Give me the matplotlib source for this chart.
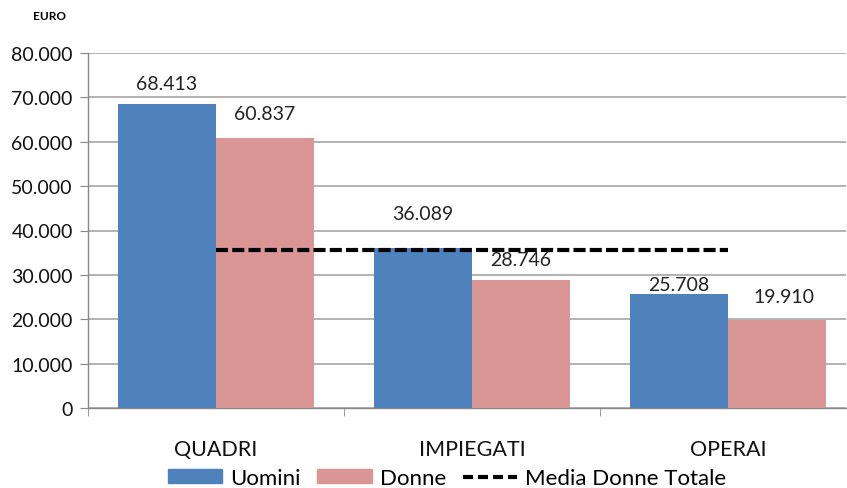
import matplotlib
matplotlib.use("Agg")
import matplotlib.pyplot as plt
from matplotlib.ticker import FuncFormatter, FixedLocator
from matplotlib.patches import Patch
from matplotlib.lines import Line2D

categories = ["QUADRI", "IMPIEGATI", "OPERAI"]
uomini = [68413, 36089, 25708]
donne = [60837, 28746, 19910]
media_donne = 35600
yticks = [0, 10000, 20000, 30000, 40000, 50000, 60000, 70000, 80000]

# label offsets in pixels (dx, dy above bar top)
lab_off_u = [(0, 21), (0, 34), (0, 9)]
lab_off_d = [(0, 25), (0, 21), (7, 23)]

plt.rcParams['font.family'] = ['Lato', 'DejaVu Sans']
W, H = 847, 489
fig = plt.figure(figsize=(W/100, H/100), dpi=100)
ax = fig.add_axes([88/W, 1 - 409/H, (846-88)/W, (409-54)/H])

blue = "#4F81BD"
pink = "#D99694"
bw = 98/256
x = list(range(len(categories)))
xu = [i - bw/2 for i in x]
xd = [i + bw/2 for i in x]
ax.bar(xu, uomini, width=bw, color=blue, zorder=3)
ax.bar(xd, donne, width=bw, color=pink, zorder=3)
ax.plot([x[0], x[-1]], [media_donne, media_donne], color="black", lw=3,
        dashes=(2.9, 1.0), zorder=4)

px = 72/100
for xi, v, (dx, dy) in zip(xu, uomini, lab_off_u):
    ax.annotate(f"{v/1000:.3f}", (xi, v), xytext=(dx*px, dy*px), textcoords="offset points",
                ha="center", va="center", fontsize=14, color="#222222", zorder=5)
for xi, v, (dx, dy) in zip(xd, donne, lab_off_d):
    ax.annotate(f"{v/1000:.3f}", (xi, v), xytext=(dx*px, dy*px), textcoords="offset points",
                ha="center", va="center", fontsize=14, color="#222222", zorder=5)

ax.set_xlim(-0.5, -0.5 + (846-88)/256)
ax.set_ylim(0, 80000)
ax.set_yticks(yticks)
ax.yaxis.set_major_formatter(FuncFormatter(lambda v, p: "0" if v == 0 else f"{v/1000:.3f}"))
ax.set_xticks(x)
ax.set_xticklabels(categories)
ax.xaxis.set_minor_locator(FixedLocator([-0.5, 0.5, 1.5, 2.5]))
ax.tick_params(axis="x", which="major", length=0, pad=22, labelsize=15.5, labelcolor="#111111")
ax.tick_params(axis="x", which="minor", length=6, color="#888888")
ax.tick_params(axis="y", length=6, color="#888888", labelsize=14, labelcolor="#111111", pad=5)
ax.grid(axis="y", color="#A6A6A6", lw=1.2, zorder=0)
for s in ["top", "right"]:
    ax.spines[s].set_visible(False)
for s in ["left", "bottom"]:
    ax.spines[s].set_color("#888888")
    ax.spines[s].set_linewidth(1)

fig.text(33/W, 1 - 17/H, "EURO", fontsize=8.5, fontweight="bold", ha="left", va="center")

handles = [Patch(color=blue, label="Uomini"), Patch(color=pink, label="Donne"),
           Line2D([0], [0], color="black", lw=3, dashes=(2.4, 1.2), label="Media Donne Totale")]
fig.legend(handles=handles, loc="center", bbox_to_anchor=(447/W, 1 - 479/H), ncol=3,
           frameon=False, fontsize=16, handlelength=2.45, handleheight=0.55,
           columnspacing=0.75, handletextpad=0.36, borderpad=0.1)

fig.savefig("out.png", dpi=100)
